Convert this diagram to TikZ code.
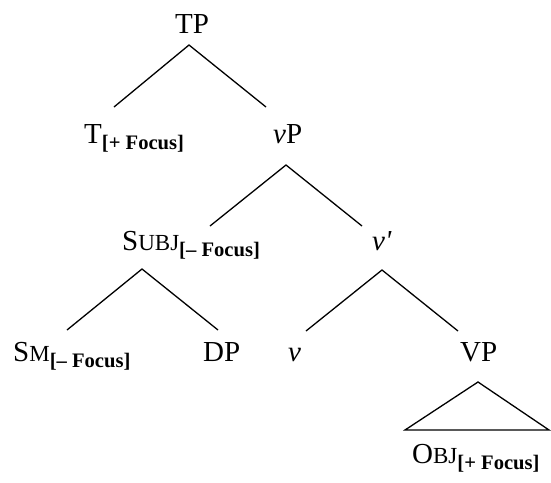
\documentclass[tikz,border=0pt]{standalone}
\usepackage{fontspec}
\setmainfont{Liberation Serif}
\newfontfamily\plainserif{Liberation Serif}
\newcommand\lsub[1]{\raisebox{-6pt}{\fontsize{20.6}{24}\selectfont\bfseries #1}}
\newcommand\fsc[2]{#1{\fontsize{23}{27}\selectfont #2}}
\newcommand\straightprime{{\plainserif\itshape '}}
\tikzset{
  lab/.style={anchor=base west, inner sep=0pt, font=\fontsize{29}{34}\selectfont},
  branch/.style={line width=1.3pt, line cap=butt, line join=miter},
}
\begin{document}
\begin{tikzpicture}[x=1pt,y=-1pt]
\useasboundingbox (0,0) rectangle (551,482);
% labels
\node[lab] (TP) at (175,33) {TP};
\node[lab] (T) at (84,143) {T\lsub{[+ Focus]}};
\node[lab] (vP) at (273,143) {\textit{v}P};
\node[lab] (Subj) at (122,250) {\fsc{S}{UBJ}\lsub{[– Focus]}};
\node[lab] (vbar) at (372,250) {\textit{v}\straightprime};
\node[lab] (Sm) at (13,361) {\fsc{S}{M}\lsub{[– Focus]}};
\node[lab] (DP) at (203,361) {DP};
\node[lab] (v) at (288,361) {\textit{v}};
\node[lab] (VP) at (460,361) {VP};
\node[lab] (Obj) at (412,463) {\fsc{O}{BJ}\lsub{[+ Focus]}};
% branch points
\coordinate (TPa) at (189,45);
\coordinate (Tt) at (114,107);
\coordinate (vPt) at (266,107);
\coordinate (vPa) at (286,165);
\coordinate (Subjt) at (210,226);
\coordinate (vbart) at (362,226);
\coordinate (Subja) at (142,269);
\coordinate (Smt) at (67,330);
\coordinate (DPt) at (218,330);
\coordinate (vbara) at (382,270);
\coordinate (vt) at (306,331);
\coordinate (VPt) at (458,331);
\coordinate (VPa) at (478,382);
\coordinate (Objl) at (405,430);
\coordinate (Objr) at (549,430);
% branches
\draw[branch] (Tt) -- (TPa) -- (vPt);
\draw[branch] (Subjt) -- (vPa) -- (vbart);
\draw[branch] (Smt) -- (Subja) -- (DPt);
\draw[branch] (vt) -- (vbara) -- (VPt);
\draw[branch] (VPa) -- (Objl) -- (Objr) -- cycle;
\end{tikzpicture}
\end{document}
